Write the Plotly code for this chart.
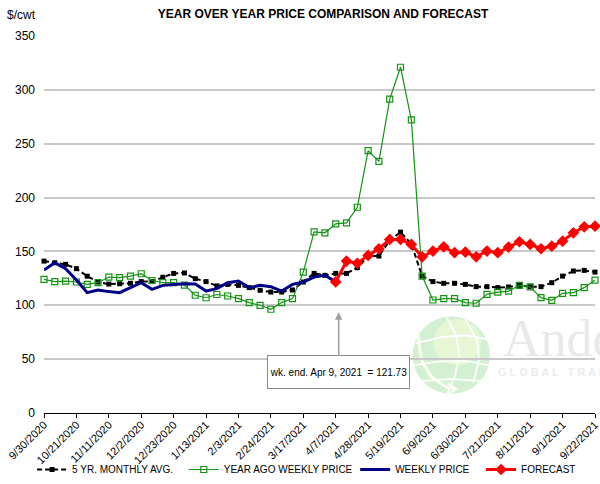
import plotly.graph_objects as go
import pandas as pd

# ---------------- data ----------------
week_dates = pd.date_range("2020-09-30", periods=52, freq="7D")
tick_labels = ["9/30/2020", "10/21/2020", "11/11/2020", "12/2/2020", "12/23/2020",
               "1/13/2021", "2/3/2021", "2/24/2021", "3/17/2021", "4/7/2021",
               "4/28/2021", "5/19/2021", "6/9/2021", "6/30/2021", "7/21/2021",
               "8/11/2021", "9/1/2021", "9/22/2021"]

five_yr_avg = [141, 139.5, 138, 134, 127, 121.6, 119.7, 120, 120.4, 122,
               122, 126, 129.6, 130, 124.7, 122, 118, 119.4, 118.5, 116.4,
               113.9, 112.3, 112.3, 114.2, 121.6, 129.6, 127.8, 129.6, 129.6, 134.9,
               145.7, 145.7, 160.2, 167.9, 157, 127, 122, 120.4, 120.4, 119.4,
               117.3, 117.3, 116.4, 117, 118.5, 117.3, 117.3, 121, 127.1, 131.8,
               132.4, 130.8]

year_ago = [124, 122, 122.5, 121.6, 119.4, 121, 126.2, 125.6, 127, 129.3,
            123, 121, 121, 118.8, 109.3, 107, 110, 108.6, 106.2, 102.5,
            100, 96.3, 102.5, 106.2, 130.8, 168.2, 167.3, 175.6, 176.5, 191,
            243.5, 233.6, 291.4, 321, 272.2, 127.1, 104.9, 106.2, 106.2, 102.5,
            101.9, 110.2, 112.3, 113.2, 118.5, 117, 107.1, 104.6, 111.1, 111.7,
            116.4, 123.4]

weekly_price = [132.7, 139.5, 134, 123.5, 111.7, 114.2, 112.7, 111.7, 116.4, 121,
                114.8, 118.5, 119.4, 120, 119.7, 113.2, 115.5, 121, 122.5, 116.4,
                118.5, 117.3, 113.2, 119.4, 121.6, 126.2, 127.8, 121.73]

forecast = [121.73, 141, 139, 146.3, 152.5, 161.1, 161.1, 156.5, 145, 150.3,
            154.3, 148.8, 149.4, 145, 150.3, 148.8, 154, 159, 156.5, 152.5,
            154.9, 159.5, 167.3, 172.8, 173.4]
forecast_start = 27

# ---------------- geometry helpers ----------------
W, H = 600, 484
L, R, T, B = 44, 0, 36, 70
PW, PH = W - L - R, H - T - B


def px(x):
    return (x - L) / PW


def py(y):
    return (H - B - y) / PH


FONT = "Liberation Sans, Arial, sans-serif"

fig = go.Figure()

fig.add_trace(go.Scatter(
    x=week_dates, y=five_yr_avg, name="5 YR. MONTHLY AVG.", mode="lines+markers",
    line=dict(color="#000000", width=2, dash="5px,3px"),
    marker=dict(symbol="square", size=5, color="#000000"),
    legend="legend", cliponaxis=False))

fig.add_trace(go.Scatter(
    x=week_dates, y=year_ago, name="YEAR AGO WEEKLY PRICE", mode="lines+markers",
    line=dict(color="#129412", width=1.2),
    marker=dict(symbol="square-open", size=6, color="#129412", line=dict(width=1.2)),
    legend="legend2", cliponaxis=False))

fig.add_trace(go.Scatter(
    x=week_dates[:len(weekly_price)], y=weekly_price, name="WEEKLY PRICE", mode="lines",
    line=dict(color="#000088", width=3),
    legend="legend3", cliponaxis=False))

fig.add_trace(go.Scatter(
    x=week_dates[forecast_start:forecast_start + len(forecast)], y=forecast,
    name="FORECAST", mode="lines+markers",
    line=dict(color="#ff0000", width=3),
    marker=dict(symbol="diamond", size=9, color="#ff0000"),
    legend="legend4", cliponaxis=False))

# ---------------- watermark ----------------
shapes = []
gx, gy, gr = 455, 356, 39
shapes.append(dict(type="circle", xref="paper", yref="paper",
                   x0=px(gx - gr), x1=px(gx + gr), y0=py(gy + gr), y1=py(gy - gr),
                   fillcolor="#d3f0d3", line=dict(width=0), layer="between"))
shapes.append(dict(type="circle", xref="paper", yref="paper",
                   x0=px(gx - 18), x1=px(gx + 30), y0=py(gy + 10), y1=py(gy - 36),
                   fillcolor="#e9f7d6", line=dict(width=0), layer="between", opacity=0.9))


def pth(points):
    s = "M " + " L ".join(f"{px(a):.5f},{py(b):.5f}" for a, b in points)
    return s


# globe grid lines (white)
for pts in [
    [(gx - 5, gy - 38), (gx + 5, gy - 20), (gx + 8, gy), (gx + 4, gy + 20), (gx - 4, gy + 38)],
    [(gx + 14, gy - 36), (gx + 26, gy - 15), (gx + 28, gy + 5), (gx + 22, gy + 28)],
    [(gx - 36, gy - 12), (gx - 10, gy - 18), (gx + 15, gy - 20), (gx + 36, gy - 16)],
    [(gx - 38, gy + 10), (gx - 10, gy + 6), (gx + 15, gy + 6), (gx + 38, gy + 10)],
    [(gx - 30, gy + 26), (gx, gy + 24), (gx + 30, gy + 26)],
]:
    shapes.append(dict(type="path", xref="paper", yref="paper", path=pth(pts),
                       line=dict(color="rgba(255,255,255,0.85)", width=2), layer="between"))
# swoosh
shapes.append(dict(type="path", xref="paper", yref="paper",
                   path=pth([(gx - 34, gy - 22), (gx - 30, gy + 5), (gx - 20, gy + 22),
                             (gx - 5, gy + 32), (gx + 4, gy + 34)]),
                   line=dict(color="rgba(255,255,240,0.95)", width=3), layer="between"))
shapes.append(dict(type="path", xref="paper", yref="paper",
                   path=pth([(gx - 4, gy + 28), (gx + 5, gy + 34), (gx - 3, gy + 39)]),
                   line=dict(color="rgba(255,255,255,0.95)", width=2), layer="between"))

annotations = [
    dict(text="Anderson", xref="paper", yref="paper", x=px(505), y=py(339),
         xanchor="left", yanchor="middle", showarrow=False,
         font=dict(family="Liberation Serif, Times New Roman, serif", size=52, color="#e9e9e9")),
    dict(text="G L O B A L   T R A D E", xref="paper", yref="paper", x=px(500), y=py(373),
         xanchor="left", yanchor="middle", showarrow=False,
         font=dict(family=FONT, size=11, color="#ececec", weight="bold")),
    dict(text="$/cwt", xref="paper", yref="paper", x=px(38), y=py(15),
         xanchor="right", yanchor="middle", showarrow=False,
         font=dict(family=FONT, size=12, color="#000000")),
    dict(text="wk. end. Apr 9, 2021  = 121.73", x=week_dates[forecast_start], y=(H - B - 313) / PH * 350,
         xref="x", yref="y", showarrow=True, ax=0, ay=60, arrowhead=2, arrowsize=1,
         arrowwidth=1.5, arrowcolor="#a0a0a0", standoff=0, xshift=3,
         width=139, height=30, borderpad=1,
         bgcolor="#ffffff", bordercolor="#8c8c8c", borderwidth=1,
         font=dict(family=FONT, size=10, color="#000000")),
]

legend_common = dict(orientation="h", yanchor="middle", y=py(471), xanchor="left",
                     font=dict(family=FONT, size=10, color="#000000"),
                     bgcolor="rgba(0,0,0,0)", itemwidth=30, tracegroupgap=0)

fig.update_layout(
    width=W, height=H,
    margin=dict(l=L, r=R, t=T, b=B),
    paper_bgcolor="#ffffff", plot_bgcolor="#ffffff",
    font=dict(family=FONT, size=12, color="#000000"),
    title=dict(text="<b>YEAR OVER YEAR PRICE COMPARISON AND FORECAST</b>",
               x=323 / W, xanchor="center", y=1 - 14 / H, yanchor="middle",
               font=dict(family=FONT, size=12, color="#000000")),
    xaxis=dict(range=[week_dates[0], week_dates[-1]], tickvals=list(week_dates[::3]),
               ticktext=tick_labels, tickangle=-45, showgrid=False, zeroline=False,
               showline=True, linecolor="#000000", linewidth=1.3,
               ticks="outside", ticklen=4, tickcolor="#000000", tickwidth=1,
               ticklabelstandoff=-4, ticklabeloverflow="allow",
               tickfont=dict(family=FONT, size=11)),
    yaxis=dict(range=[0, 350], dtick=50, showgrid=True, gridcolor="#c8c8c8", gridwidth=1.5,
               zeroline=False, showline=False, ticks="", ticklabelstandoff=8,
               tickfont=dict(family=FONT, size=12)),
    legend=dict(legend_common, x=px(32)),
    legend2=dict(legend_common, x=px(185)),
    legend3=dict(legend_common, x=px(358)),
    legend4=dict(legend_common, x=px(485)),
    shapes=shapes,
    annotations=annotations,
    showlegend=True,
)

fig.write_html("out.html")
